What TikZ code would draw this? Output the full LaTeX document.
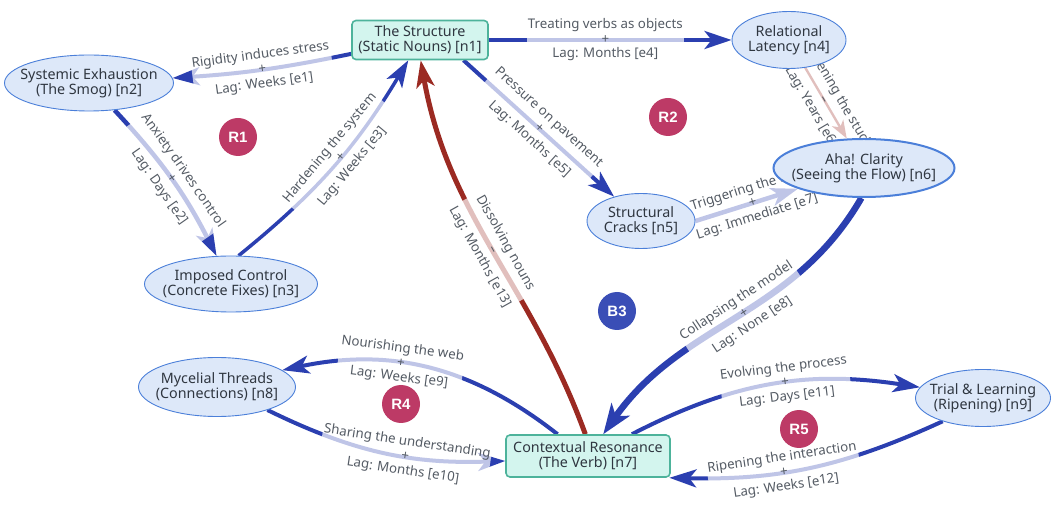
\documentclass[tikz,border=0pt]{standalone}
\usepackage{fontspec}
\setmainfont{Noto Sans}
\newfontfamily\markfont{Liberation Sans}
\usetikzlibrary{arrows.meta,shapes.geometric}
\pgfdeclarelayer{links}
\pgfsetlayers{links,main}
\definecolor{linkblue}{HTML}{2B3FB0}
\definecolor{linkred}{HTML}{9B2A22}
\definecolor{ovalfill}{HTML}{DDE8F9}
\definecolor{ovalline}{HTML}{4B7FD9}
\definecolor{boxfill}{HTML}{D3F5EE}
\definecolor{boxline}{HTML}{4DB39B}
\definecolor{loopred}{HTML}{BD3A66}
\definecolor{loopblue}{HTML}{3A4EB6}
\definecolor{inktext}{HTML}{2F3640}
\definecolor{lagtext}{HTML}{545B64}

\begin{document}
\begin{tikzpicture}[x=1pt, y=1pt,
    oval/.style = {ellipse, draw=ovalline, fill=ovalfill, line width=0.9pt, inner xsep=-25pt, inner ysep=-6pt, align=center, text=inktext, font=\fontsize{14.3}{15}\selectfont},
    stock/.style = {rectangle, rounded corners=4pt, draw=boxline, fill=boxfill, line width=1.6pt, inner sep=0pt, align=center, text=inktext, font=\fontsize{14.3}{15}\selectfont},
    loopmark/.style = {circle, minimum size=38pt, inner sep=0pt, text=white, font=\markfont\bfseries\fontsize{15}{15}\selectfont},
    link/.style = {linkblue, line width=4pt, -{Stealth[length=27pt, width=18pt, inset=7pt]}},
    neglink/.style = {link, linkred},
    lag/.style = {sloped, fill=white, fill opacity=.7, text opacity=1, text=lagtext, inner sep=1pt, align=center, font=\fontsize{13.3}{14.5}\selectfont}]

    \useasboundingbox (0,0) rectangle (1060,506);

    % stocks and variables
    \node[stock, minimum width=136pt, minimum height=39pt] (n1) at (420,466) {The Structure\\(Static Nouns) [n1]};
    \node[oval, minimum width=169pt, minimum height=56pt] (n2) at (89,423) {Systemic Exhaustion\\(The Smog) [n2]};
    \node[oval, minimum width=173pt, minimum height=56pt] (n3) at (231,222) {Imposed Control\\(Concrete Fixes) [n3]};
    \node[oval, minimum width=114pt, minimum height=57pt] (n4) at (789,466) {Relational\\Latency [n4]};
    \node[oval, minimum width=108pt, minimum height=55pt] (n5) at (641,285) {Structural\\Cracks [n5]};
    \node[oval, line width=2pt, minimum width=181pt, minimum height=58pt] (n6) at (864,338) {Aha! Clarity\\(Seeing the Flow) [n6]};
    \node[stock, minimum width=164pt, minimum height=42pt] (n7) at (588,50) {Contextual Resonance\\(The Verb) [n7]};
    \node[oval, minimum width=157pt, minimum height=59pt] (n8) at (217,119) {Mycelial Threads\\(Connections) [n8]};
    \node[oval, minimum width=135pt, minimum height=57pt] (n9) at (983,108) {Trial \& Learning\\(Ripening) [n9]};

    % loop markers
    \node[loopmark, fill=loopred] (r1) at (238,369) {R1};
    \node[loopmark, fill=loopred] (r2) at (668,389) {R2};
    \node[loopmark, fill=loopblue] (b3) at (617,195) {B3};
    \node[loopmark, fill=loopred] (r4) at (401,102) {R4};
    \node[loopmark, fill=loopred] (r5) at (799,77) {R5};

    % links
    \begin{pgfonlayer}{links}
    \draw[link] (n1) to[bend left=4] node[lag] {Rigidity induces stress\\+\\Lag: Weeks [e1]} (n2);
    \draw[link, line width=4.5pt] (n2) to[bend left=8] node[lag] {Anxiety drives control\\+\\Lag: Days [e2]} (n3);
    \draw[link, line width=3.5pt] (n3.75) to[bend right=10] node[lag, pos=.55] {Hardening the system\\+\\Lag: Weeks [e3]} (n1);
    \draw[link] (n1) -- node[lag, pos=.48] {Treating verbs as objects\\+\\Lag: Months [e4]} (n4);
    \draw[link] (n1.-25) -- node[lag] {Pressure on pavement\\+\\Lag: Months [e5]} (n5);
    \draw[neglink, line width=2.4pt, -{Stealth[length=18pt, width=13pt, inset=5pt]}] (n4) -- node[lag, pos=.45] {Loosening the stuck\\--\\Lag: Years [e6]} (n6);
    \draw[link, line width=4.5pt] (n5.east) -- node[lag, pos=.56] {Triggering the shift\\+\\Lag: Immediate [e7]} (n6);
    \draw[link, line width=6.5pt, -{Stealth[length=30pt, width=22pt, inset=8pt]}] (n6.-95) to[out=-120, in=55] node[lag, pos=.47] {Collapsing the model\\+\\Lag: None [e8]} (n7);
    \draw[neglink, line width=5pt] (n7.97) to[out=110, in=-80] node[lag] {Dissolving nouns\\--\\Lag: Months [e13]} (n1.-88);
    \draw[link] (n7) to[bend right=25] node[lag, pos=.6] {Nourishing the web\\+\\Lag: Weeks [e9]} (n8);
    \draw[link] (n8) to[bend right=14] node[lag, pos=.6] {Sharing the understanding\\+\\Lag: Months [e10]} (n7);
    \draw[link] (n7) to[bend left=18] node[lag, pos=.55] {Evolving the process\\+\\Lag: Days [e11]} (n9);
    \draw[link] (n9.210) to[bend left=13] node[lag, pos=.6] {Ripening the interaction\\+\\Lag: Weeks [e12]} (n7.-15);
    \end{pgfonlayer}

\end{tikzpicture}
\end{document}
